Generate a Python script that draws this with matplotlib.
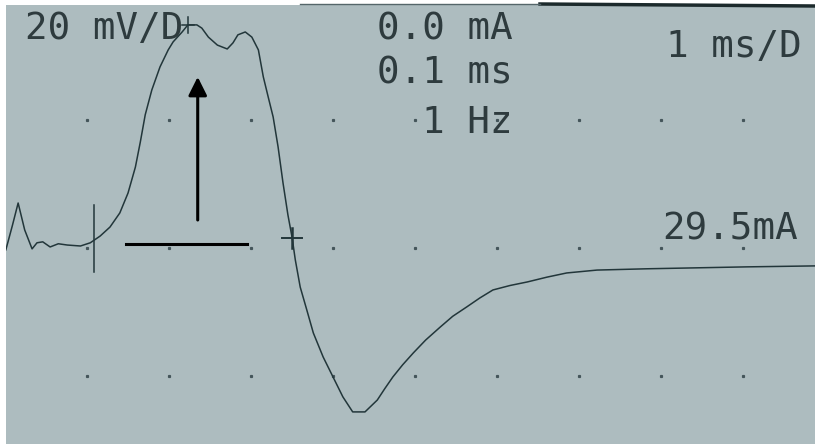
import matplotlib.pyplot as plt

# trace, time in ms, amplitude in mV
time_ms = [0.01, 0.09, 0.16, 0.24, 0.33, 0.39, 0.46, 0.55, 0.65, 0.76, 0.92, 1.04,
           1.16, 1.28, 1.40, 1.50, 1.59, 1.65, 1.71, 1.79, 1.89, 1.99, 2.05, 2.16,
           2.23, 2.34, 2.40, 2.48, 2.59, 2.71, 2.78, 2.84, 2.93, 3.01, 3.09, 3.15,
           3.21, 3.27, 3.33, 3.39, 3.45, 3.50, 3.54, 3.60, 3.68, 3.76, 3.88, 4.00,
           4.12, 4.24, 4.39, 4.54, 4.63, 4.73, 4.85, 4.98, 5.13, 5.31, 5.46, 5.63,
           5.79, 5.95, 6.16, 6.37, 6.61, 6.85, 7.22, 7.83, 8.44, 9.05, 9.88]
volt_mv = [-0.6, 7.0, 14.0, 5.6, -0.3, 1.6, 1.9, 0.3, 1.3, 0.9, 0.6, 1.6,
           3.7, 6.5, 10.9, 17.1, 25.2, 33.0, 41.5, 49.2, 56.4, 61.7, 64.2, 67.3,
           69.5, 69.5, 68.5, 65.7, 63.2, 62.0, 63.9, 66.4, 67.3, 65.7, 61.7, 53.3,
           47.0, 40.8, 31.5, 20.3, 10.3, 3.4, -3.7, -12.2, -19.3, -26.5, -34.0, -40.2,
           -46.4, -51.1, -51.1, -47.4, -43.9, -40.2, -36.4, -32.7, -28.7, -24.6, -21.3, -18.4,
           -15.6, -13.1, -11.7, -10.6, -9.1, -7.8, -6.9, -6.5, -6.2, -5.9, -5.6]

dot_cols = [1, 2, 3, 4, 5, 6, 7, 8, 9]
dot_rows = [40, 0, -40]

# cursors / markers
onset_ms, onset_lo, onset_hi = 1.09, -7.5, 13.4
cross_ms, cross_mv = 3.50, 3.1
peak_ms, peak_mv = 2.23, 69.5
arrow_ms, arrow_base, arrow_tip = 2.35, 8.7, 53.3
base_start, base_end, base_mv = 1.48, 2.95, 1.3

screen = '#adbcbf'
ink = '#22363a'
txt = '#2e3b3e'

fig = plt.figure(figsize=(8.15, 4.44), dpi=100)
fig.patch.set_facecolor('white')
ax = fig.add_axes([6 / 815, 0, 809 / 815, 439 / 444])
ax.set_facecolor(screen)
ax.set_xlim(0.012, 9.878)
ax.set_ylim(-61.1, 75.7)
ax.set_xticks([])
ax.set_yticks([])
for s in ax.spines.values():
    s.set_visible(False)

# grid dots
for r in dot_rows:
    ax.plot(dot_cols, [r] * len(dot_cols), ls='none', marker='s', ms=1.3, color='#44555a')

ax.plot(time_ms, volt_mv, color=ink, lw=1.1)

# onset tick, cross marker, peak marker
ax.plot([onset_ms, onset_ms], [onset_lo, onset_hi], color=ink, lw=1.1)
ax.plot([cross_ms - 0.12, cross_ms + 0.12], [cross_mv, cross_mv], color=ink, lw=1.4)
ax.plot([cross_ms, cross_ms], [cross_mv - 3.1, cross_mv + 3.1], color=ink, lw=1.8)
ax.plot([peak_ms - 0.07, peak_ms + 0.07], [peak_mv, peak_mv], color=ink, lw=1.1)
ax.plot([peak_ms, peak_ms], [peak_mv - 2.5, peak_mv + 2.5], color=ink, lw=1.1)

# amplitude arrow and baseline bar
ax.annotate('', xy=(arrow_ms, arrow_tip), xytext=(arrow_ms, arrow_base),
            arrowprops=dict(arrowstyle='-|>', color='black', lw=2.2,
                            mutation_scale=28, shrinkA=0, shrinkB=0))
ax.plot([base_start, base_end], [base_mv, base_mv], color='black', lw=2.2)

# bezel edge at top right
fig.add_artist(plt.Line2D([540 / 815, 1], [1 - 4 / 444, 1 - 6 / 444], color='#1c2a2c', lw=2.5))
fig.add_artist(plt.Line2D([300 / 815, 540 / 815], [1 - 4 / 444, 1 - 4 / 444], color='#55666a', lw=1))

font = dict(family='DejaVu Sans Mono', size=27, color=txt, va='center')
fig.text(25 / 815, 1 - 29 / 444, '20 mV/D', ha='left', **font)
fig.text(513 / 815, 1 - 29 / 444, '0.0 mA', ha='right', **font)
fig.text(513 / 815, 1 - 74 / 444, '0.1 ms', ha='right', **font)
fig.text(513 / 815, 1 - 123 / 444, '1 Hz', ha='right', **font)
fig.text(802 / 815, 1 - 47 / 444, '1 ms/D', ha='right', **font)
fig.text(798 / 815, 1 - 229 / 444, '29.5mA', ha='right', **font)

plt.savefig('out.png', dpi=100)
